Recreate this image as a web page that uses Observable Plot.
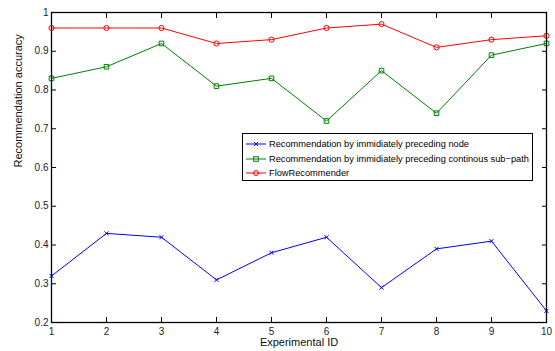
<!DOCTYPE html>
<html><head><meta charset="utf-8">
<script src="https://cdn.jsdelivr.net/npm/d3@7"></script>
<script src="https://cdn.jsdelivr.net/npm/@observablehq/plot@0.6"></script>
<style>
body{margin:0;background:#fff;font-family:"Liberation Sans",Arial,sans-serif}
#wrap{position:relative;width:555px;height:351px}
#legend{position:absolute;left:242px;top:133px;width:289px;height:46px;border:1px solid #000;background:#fff;font-size:9.25px;color:#000}
.row{position:absolute;left:2px;height:14px;display:flex;align-items:center;white-space:nowrap}
.row svg{margin-right:2px}
</style></head>
<body><div id="wrap"><div id="chart"></div><div id="legend"></div></div>
<script>
const ids = [1, 2, 3, 4, 5, 6, 7, 8, 9, 10];
const nodeRec = [0.32, 0.43, 0.42, 0.31, 0.38, 0.42, 0.29, 0.39, 0.41, 0.23];
const subPathRec = [0.83, 0.86, 0.92, 0.81, 0.83, 0.72, 0.85, 0.74, 0.89, 0.92];
const flowRec = [0.96, 0.96, 0.96, 0.92, 0.93, 0.96, 0.97, 0.91, 0.93, 0.94];
const seriesNames = [
  "Recommendation by immidiately preceding node",
  "Recommendation by immidiately preceding continous sub\u2212path",
  "FlowRecommender"
];
const seriesColors = ["#0000ff", "#008000", "#ff0000"];
const seriesSymbols = ["times", "square", "circle"];
const yTicks = [0.2, 0.3, 0.4, 0.5, 0.6, 0.7, 0.8, 0.9, 1];

const allSeries = [nodeRec, subPathRec, flowRec];
const data = allSeries.flatMap((vals, s) => vals.map((v, i) => ({x: ids[i], y: v, s})));

const fmtY = d => d === 1 ? "1" : d.toFixed(1);
const chart = Plot.plot({
  width: 555, height: 351,
  marginLeft: 51, marginRight: 9, marginTop: 12, marginBottom: 29,
  style: {fontFamily: '"Liberation Sans", Arial, sans-serif', fontSize: "10px", color: "#222", background: "#fff"},
  x: {domain: [1, 10]},
  y: {domain: [0.2, 1]},
  marks: [
    Plot.axisX(ids, {anchor: "bottom", tickSize: -5, tickPadding: 10, fontSize: 10, label: null, stroke: "#000"}),
    Plot.axisX(ids, {anchor: "top", tickSize: -5, tickFormat: () => "", label: null, stroke: "#000"}),
    Plot.axisY(yTicks, {anchor: "left", tickSize: -5, tickPadding: 8, tickFormat: fmtY, fontSize: 10, label: null, stroke: "#000"}),
    Plot.axisY(yTicks, {anchor: "right", tickSize: -5, tickFormat: () => "", label: null, stroke: "#000"}),
    ...allSeries.map((vals, s) => Plot.line(data.filter(d => d.s === s), {x: "x", y: "y", stroke: seriesColors[s], strokeWidth: 1})),
    ...allSeries.map((vals, s) => Plot.dot(data.filter(d => d.s === s), {x: "x", y: "y", stroke: seriesColors[s], symbol: seriesSymbols[s], r: s === 0 ? 2 : 2.6, strokeWidth: 1, fill: "none"})),
    Plot.frame({stroke: "#000", strokeWidth: 1.3}),
    Plot.text(["Experimental ID"], {frameAnchor: "bottom", dy: 23, fontSize: 11, fill: "#111"}),
    Plot.text(["Recommendation accuracy"], {frameAnchor: "left", dx: -33, rotate: -90, fontSize: 11, fill: "#111"})
  ]
});
document.getElementById("chart").appendChild(chart);

const legend = document.getElementById("legend");
seriesNames.forEach((name, s) => {
  const row = document.createElement("div");
  row.className = "row";
  row.style.top = (3 + s * 14.5) + "px";
  const sym = seriesSymbols[s];
  const c = seriesColors[s];
  let marker = "";
  if (sym === "times") marker = `<path d="M9,3 L13,7 M13,3 L9,7" stroke="${c}" stroke-width="1"/>`;
  else if (sym === "square") marker = `<rect x="8.7" y="2.7" width="4.6" height="4.6" fill="none" stroke="${c}"/>`;
  else marker = `<circle cx="11" cy="5" r="2.5" fill="none" stroke="${c}"/>`;
  row.innerHTML = `<svg width="22" height="10"><line x1="1" x2="21" y1="5" y2="5" stroke="${c}" stroke-width="1"/>${marker}</svg><span>${name}</span>`;
  legend.appendChild(row);
});
</script>
</body></html>
